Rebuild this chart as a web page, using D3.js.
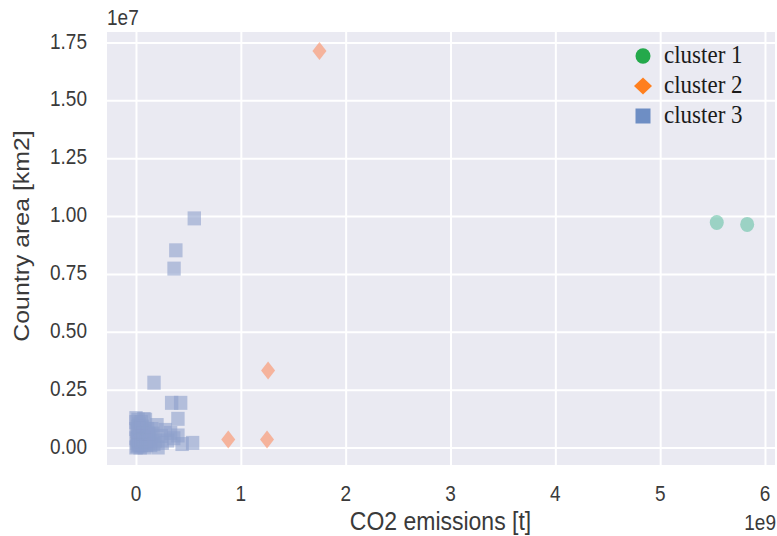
<!DOCTYPE html>
<html>
<head>
<meta charset="utf-8">
<script src="https://cdn.jsdelivr.net/npm/d3@7"></script>
<style>
  html, body { margin: 0; padding: 0; background: #fff; }
  svg { display: block; }
</style>
</head>
<body>
<svg id="chart" width="777" height="536"></svg>
<script>
// ---- data (x: CO2 emissions [t], y: country area [km2]) ----
const cluster1 = [[5.54e9, 0.972e7], [5.83e9, 0.964e7]];
const cluster2 = [[1.75e9, 1.713e7], [1.26e9, 0.333e7], [0.88e9, 0.035e7], [1.25e9, 0.035e7]];
const cluster3 = [
  [0.556e9, 0.99e7], [0.38e9, 0.852e7], [0.363e9, 0.773e7], [0.172e9, 0.28e7],
  [0.34e9, 0.193e7], [0.426e9, 0.193e7], [0.40e9, 0.124e7], [0.54e9, 0.02e7],
  [0.40e9, 0.052e7], [0.0e9, 0.127e7], [0.076e9, 0.123e7], [0.09e9, 0.12e7],
  [0.2e9, 0.097e7], [0.28e9, 0.076e7], [0.33e9, 0.063e7], [0.25e9, 0.02e7],
  [0.44e9, 0.015e7], [0.21e9, 0.0e7], [0.13e9, 0.04e7], [0.16e9, 0.06e7],
  [0.0e9, 0.0e7], [0.02e9, 0.01e7], [0.04e9, 0.0e7], [0.06e9, 0.02e7],
  [0.08e9, 0.0e7], [0.1e9, 0.01e7], [0.12e9, 0.02e7], [0.0e9, 0.04e7],
  [0.02e9, 0.06e7], [0.05e9, 0.05e7], [0.08e9, 0.07e7], [0.1e9, 0.05e7],
  [0.0e9, 0.08e7], [0.03e9, 0.1e7], [0.06e9, 0.09e7], [0.01e9, 0.02e7],
  [0.03e9, 0.03e7], [0.05e9, 0.01e7], [0.07e9, 0.04e7], [0.11e9, 0.08e7],
  [0.14e9, 0.01e7], [0.0e9, 0.11e7], [0.02e9, 0.12e7], [0.3e9, 0.03e7],
  [0.36e9, 0.04e7], [0.18e9, 0.03e7], [0.01e9, 0.005e7], [0.03e9, 0.015e7],
  [0.015e9, 0.035e7], [0.045e9, 0.025e7], [0.01e9, 0.07e7], [0.04e9, 0.08e7],
  [0.07e9, 0.06e7], [0.09e9, 0.03e7], [0.12e9, 0.06e7], [0.15e9, 0.08e7],
  [0.02e9, 0.09e7], [0.05e9, 0.11e7], [0.24e9, 0.05e7], [0.17e9, 0.015e7]
];
const clusterNames = ["cluster 1", "cluster 2", "cluster 3"];
const xTicks = [0, 1e9, 2e9, 3e9, 4e9, 5e9, 6e9];
const xTickLabels = ["0", "1", "2", "3", "4", "5", "6"];
const yTicks = [0, 0.25e7, 0.5e7, 0.75e7, 1.0e7, 1.25e7, 1.5e7, 1.75e7];
const yTickLabels = ["0.00", "0.25", "0.50", "0.75", "1.00", "1.25", "1.50", "1.75"];
const xLabel = "CO2 emissions [t]";
const yLabel = "Country area [km2]";
const xOffsetText = "1e9";
const yOffsetText = "1e7";

// ---- layout ----
const L = 107, R = 775, T = 32, B = 465;
const SY = 1.13; // vertical stretch of the reference
const x = d3.scaleLinear().domain([-0.2766e9, 6.0954e9]).range([L, R]);
const y = d3.scaleLinear().domain([-0.0756e7, 1.7954e7]).range([B, T]);

const svg = d3.select("#chart");
const textColor = "#3a3a3a";
const sans = "'Liberation Sans', Arial, sans-serif";

svg.append("rect").attr("x", L).attr("y", T).attr("width", R - L).attr("height", B - T)
  .attr("fill", "#eaeaf2");

// grid via axes
const gx = svg.append("g").attr("transform", `translate(0,${B})`)
  .call(d3.axisBottom(x).tickValues(xTicks).tickSize(-(B - T)).tickFormat(""));
const gy = svg.append("g").attr("transform", `translate(${L},0)`)
  .call(d3.axisLeft(y).tickValues(yTicks).tickSize(-(R - L)).tickFormat(""));
[gx, gy].forEach(g => {
  g.select(".domain").remove();
  g.selectAll(".tick line").attr("stroke", "#fff").attr("stroke-width", 2);
});

function stretchedText(parent, tx, ty, str, size, anchor, rot) {
  return parent.append("text")
    .attr("transform", `translate(${tx},${ty}) scale(1,${SY})` + (rot ? ` rotate(${rot})` : ""))
    .attr("text-anchor", anchor)
    .attr("font-family", sans).attr("font-size", size).attr("fill", textColor)
    .text(str);
}
xTicks.forEach((v, i) => stretchedText(svg, x(v), 501, xTickLabels[i], 19, "middle"));
yTicks.forEach((v, i) => stretchedText(svg, 87, y(v) + 6, yTickLabels[i], 19, "end"));
stretchedText(svg, x(3e9) - 10, 530, xLabel, 23, "middle");
stretchedText(svg, 29, 236, yLabel, 22, "middle", -90);
stretchedText(svg, 107, 25, yOffsetText, 19, "start");
stretchedText(svg, 776, 530, xOffsetText, 19, "end");

// markers
const plot = svg.append("g");
const diamondPath = (w, h) => `M0,${-h/2}L${w/2},0L0,${h/2}L${-w/2},0Z`;

plot.selectAll(".c1").data(cluster1).join("ellipse")
  .attr("cx", d => x(d[0])).attr("cy", d => y(d[1]))
  .attr("rx", 7).attr("ry", 7.5)
  .attr("fill", "#66c2a5").attr("opacity", 0.6);

plot.selectAll(".c3").data(cluster3).join("rect")
  .attr("x", d => x(d[0]) - 6.7).attr("y", d => y(d[1]) - 7)
  .attr("width", 13.4).attr("height", 14)
  .attr("fill", "#8da0cb").attr("opacity", 0.6);

plot.selectAll(".c2").data(cluster2).join("path")
  .attr("transform", d => `translate(${x(d[0])},${y(d[1])})`)
  .attr("d", diamondPath(14, 18))
  .attr("fill", "#fc8d62").attr("opacity", 0.6);

// legend
const legendColors = ["#24a94b", "#ff7f1e", "#6e8ec4"];
const leg = svg.append("g");
const rowsY = [56, 86, 116];
leg.append("ellipse").attr("cx", 643).attr("cy", rowsY[0]).attr("rx", 7.5).attr("ry", 7.8)
  .attr("fill", legendColors[0]);
leg.append("path").attr("transform", `translate(643,${rowsY[1]})`)
  .attr("d", diamondPath(18, 17)).attr("fill", legendColors[1]);
leg.append("rect").attr("x", 635.5).attr("y", rowsY[2] - 7.5).attr("width", 15).attr("height", 15)
  .attr("fill", legendColors[2]);
clusterNames.forEach((n, i) => {
  leg.append("text")
    .attr("transform", `translate(664,${rowsY[i] + 7}) scale(1,${SY})`)
    .attr("font-family", "'Liberation Serif', 'Times New Roman', serif")
    .attr("font-size", 23).attr("fill", "#1a1a1a").text(n);
});
</script>
</body>
</html>
